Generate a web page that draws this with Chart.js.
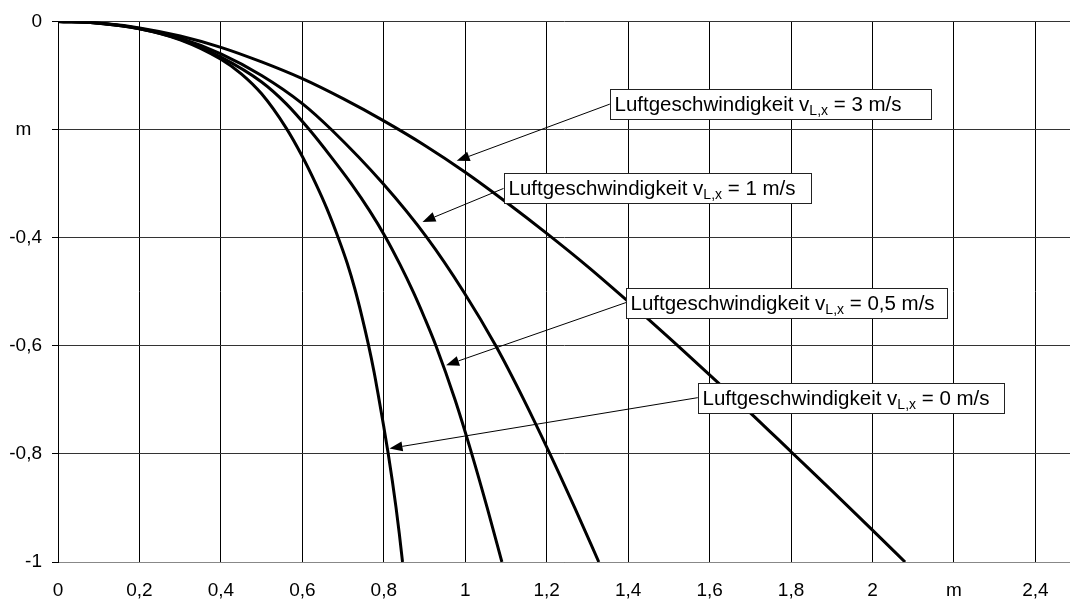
<!DOCTYPE html>
<html>
<head>
<meta charset="utf-8">
<script src="https://cdn.jsdelivr.net/npm/chart.js@4.4.0/dist/chart.umd.min.js"></script>
<style>
  html, body { margin: 0; padding: 0; background: #fff; }
  #wrap { width: 1070px; height: 601px; }
</style>
</head>
<body>
<div id="wrap"><canvas id="chart"></canvas></div>
<script>
// Flugbahnen (x, y in m) bei verschiedenen Luftgeschwindigkeiten v_L,x
const xSpeed0 = [0, 0.1, 0.2, 0.3, 0.4, 0.45, 0.5, 0.56, 0.6, 0.634, 0.66, 0.689, 0.71, 0.729, 0.746, 0.762, 0.776, 0.788, 0.8, 0.811, 0.821, 0.83, 0.838, 0.846];
const ySpeed0 = [0, -0.0033, -0.0135, -0.034, -0.07, -0.097, -0.134, -0.197, -0.25, -0.302, -0.346, -0.402, -0.447, -0.495, -0.545, -0.597, -0.648, -0.698, -0.75, -0.8, -0.85, -0.899, -0.947, -1];

const xSpeed05 = [0, 0.1, 0.2, 0.3, 0.4, 0.5, 0.56, 0.617, 0.67, 0.72, 0.765, 0.805, 0.84, 0.872, 0.901, 0.928, 0.975, 1.016, 1.054, 1.09];
const ySpeed05 = [0, -0.0033, -0.0135, -0.033, -0.066, -0.112, -0.152, -0.2, -0.25, -0.3, -0.35, -0.4, -0.45, -0.5, -0.55, -0.6, -0.7, -0.8, -0.9, -1];

const xSpeed1 = [0, 0.1, 0.2, 0.3, 0.4, 0.5, 0.6, 0.671, 0.798, 0.906, 0.996, 1.075, 1.144, 1.208, 1.269, 1.328];
const ySpeed1 = [0, -0.0032, -0.013, -0.031, -0.06, -0.1, -0.152, -0.2, -0.3, -0.4, -0.5, -0.6, -0.7, -0.8, -0.9, -1];

const xSpeed3 = [0, 0.1, 0.2, 0.3, 0.4, 0.5, 0.6, 0.7, 0.8, 0.9, 1.0, 1.1, 1.2, 1.3, 1.4, 1.5, 1.6, 1.7, 1.8, 1.9, 2.0, 2.08];
const ySpeed3 = [0, -0.003, -0.012, -0.027, -0.048, -0.075, -0.106, -0.143, -0.184, -0.229, -0.279, -0.334, -0.392, -0.453, -0.518, -0.585, -0.654, -0.724, -0.796, -0.868, -0.941, -1];

const speedLabels = ['0 m/s', '0,5 m/s', '1 m/s', '3 m/s'];

const xTicks = [0, 0.2, 0.4, 0.6, 0.8, 1, 1.2, 1.4, 1.6, 1.8, 2, 2.2, 2.4];
const xTickLabels = ['0', '0,2', '0,4', '0,6', '0,8', '1', '1,2', '1,4', '1,6', '1,8', '2', 'm', '2,4'];
const yTicks = [0, -0.2, -0.4, -0.6, -0.8, -1];
const yTickLabels = ['0', 'm  ', '-0,4', '-0,6', '-0,8', '-1'];

const FONT = '"Liberation Sans", Arial, sans-serif';

function toPoints(xs, ys) {
    return xs.map((x, i) => ({ x: x, y: ys[i] }));
}

const curves = [
    toPoints(xSpeed0, ySpeed0),
    toPoints(xSpeed05, ySpeed05),
    toPoints(xSpeed1, ySpeed1),
    toPoints(xSpeed3, ySpeed3)
];

// Beschriftungskästen in Achsenwerten: linker/rechter Rand, Mitte y, Pfeilspitze
const callouts = [
    { label: 3, left: 1.355, right: 2.144, cy: -0.153, tipX: 0.979, tipY: -0.258 },
    { label: 2, left: 1.094, right: 1.849, cy: -0.309, tipX: 0.895, tipY: -0.371 },
    { label: 1, left: 1.395, right: 2.183, cy: -0.520, tipX: 0.953, tipY: -0.636 },
    { label: 0, left: 1.571, right: 2.322, cy: -0.696, tipX: 0.814, tipY: -0.790 }
];

const calloutPlugin = {
    id: 'callouts',
    afterDraw(chart) {
        const { ctx, scales: { x, y } } = chart;
        ctx.save();
        callouts.forEach(c => {
            const left = x.getPixelForValue(c.left);
            const right = x.getPixelForValue(c.right);
            const cy = y.getPixelForValue(c.cy);
            const tx = x.getPixelForValue(c.tipX);
            const ty = y.getPixelForValue(c.tipY);
            const h = 30;

            // Pfeil
            const ang = Math.atan2(ty - cy, tx - left);
            const headLen = 13, headW = 5;
            const bx = tx - headLen * Math.cos(ang);
            const by = ty - headLen * Math.sin(ang);
            ctx.strokeStyle = '#000';
            ctx.lineWidth = 1;
            ctx.beginPath();
            ctx.moveTo(left, cy);
            ctx.lineTo(bx, by);
            ctx.stroke();
            ctx.fillStyle = '#000';
            ctx.beginPath();
            ctx.moveTo(tx, ty);
            ctx.lineTo(bx + headW * Math.sin(ang), by - headW * Math.cos(ang));
            ctx.lineTo(bx - headW * Math.sin(ang), by + headW * Math.cos(ang));
            ctx.closePath();
            ctx.fill();

            // Kasten
            const top = Math.round(cy - h / 2) + 0.5;
            const l = Math.round(left) + 0.5;
            ctx.fillStyle = '#fff';
            ctx.fillRect(l, top, Math.round(right - left), h);
            ctx.strokeStyle = '#222';
            ctx.strokeRect(l, top, Math.round(right - left), h);

            // Text mit Index L,x
            const base = cy + 7;
            let px = l + 4;
            ctx.fillStyle = '#000';
            ctx.textBaseline = 'alphabetic';
            ctx.textAlign = 'left';
            ctx.font = '20.5px ' + FONT;
            ctx.fillText('Luftgeschwindigkeit v', px, base);
            px += ctx.measureText('Luftgeschwindigkeit v').width;
            ctx.font = '14px ' + FONT;
            ctx.fillText('L,x', px, base + 4);
            px += ctx.measureText('L,x').width;
            ctx.font = '20.5px ' + FONT;
            ctx.fillText(' = ' + speedLabels[c.label], px, base);
        });
        ctx.restore();
    }
};

new Chart(document.getElementById('chart'), {
    type: 'scatter',
    data: {
        datasets: curves.map((pts, i) => ({
            label: speedLabels[i],
            data: pts,
            showLine: true,
            borderColor: '#000',
            borderWidth: 3,
            pointRadius: 0,
            cubicInterpolationMode: 'monotone',
            fill: false
        }))
    },
    options: {
        responsive: true,
        maintainAspectRatio: false,
        animation: false,
        layout: { padding: { top: 21, left: 0, right: 0, bottom: 0 } },
        plugins: {
            legend: { display: false },
            tooltip: { enabled: false }
        },
        scales: {
            x: {
                type: 'linear',
                min: 0,
                max: 2.485,
                afterBuildTicks: s => { s.ticks = xTicks.map(v => ({ value: v })); },
                afterFit: s => { s.height = 39; },
                grid: { color: '#000', lineWidth: 1, drawTicks: false },
                border: { display: true, color: '#888', width: 1 },
                ticks: {
                    color: '#000',
                    font: { family: FONT, size: 19 },
                    padding: 17,
                    maxRotation: 0,
                    autoSkip: false,
                    callback: (v, i) => xTickLabels[i]
                }
            },
            y: {
                type: 'linear',
                min: -1,
                max: 0,
                afterBuildTicks: s => { s.ticks = yTicks.map(v => ({ value: v })); },
                afterFit: s => { s.width = 58; },
                grid: { color: '#333', lineWidth: 1, drawTicks: true, tickLength: 6, tickColor: '#000' },
                border: { display: true, color: '#000', width: 1 },
                ticks: {
                    color: '#000',
                    font: { family: FONT, size: 19 },
                    padding: 10,
                    autoSkip: false,
                    callback: (v, i) => yTickLabels[i]
                }
            }
        }
    },
    plugins: [calloutPlugin]
});
</script>
</body>
</html>
